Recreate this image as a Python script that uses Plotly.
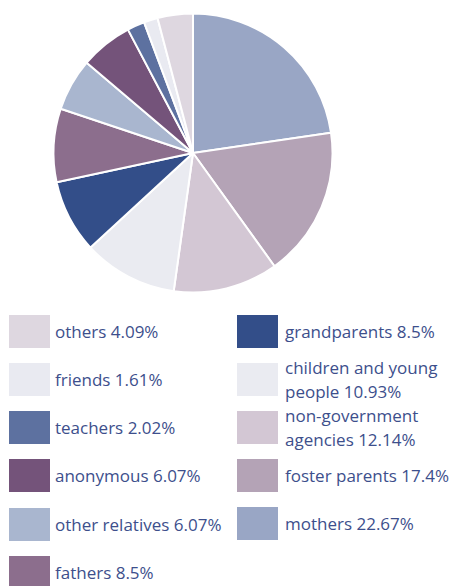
import plotly.graph_objects as go

# Data (clockwise from 12 o'clock)
labels = ["mothers", "foster parents", "non-government agencies", "children and young people",
          "grandparents", "fathers", "other relatives", "anonymous", "teachers", "friends", "others"]
values = [22.67, 17.4, 12.14, 10.93, 8.5, 8.5, 6.07, 6.07, 2.02, 1.61, 4.09]
colors = ["#99A6C5", "#B4A3B6", "#D3C7D4", "#EAEBF1", "#334E89", "#8C6E8D",
          "#A9B6CF", "#74537A", "#5D71A0", "#E9EAF1", "#DED7E0"]

# Legend text (as shown; lines split where the reference wraps)
legend_text = {
    "others": ["others 4.09%"],
    "friends": ["friends 1.61%"],
    "teachers": ["teachers 2.02%"],
    "anonymous": ["anonymous 6.07%"],
    "other relatives": ["other relatives 6.07%"],
    "fathers": ["fathers 8.5%"],
    "grandparents": ["grandparents 8.5%"],
    "children and young people": ["children and young", "people 10.93%"],
    "non-government agencies": ["non-government", "agencies 12.14%"],
    "foster parents": ["foster parents 17.4%"],
    "mothers": ["mothers 22.67%"],
}
left_col = ["others", "friends", "teachers", "anonymous", "other relatives", "fathers"]
right_col = ["grandparents", "children and young people", "non-government agencies",
             "foster parents", "mothers"]

W, H = 452, 586
TEXT = "#3D4F8C"
LINE_GAP = 24

fig = go.Figure(go.Pie(
    labels=labels, values=values, sort=False, direction="clockwise", rotation=0,
    marker=dict(colors=colors, line=dict(color="white", width=2)),
    textinfo="none", hoverinfo="label+percent", showlegend=False,
    domain=dict(x=[53.5 / W, 332.5 / W], y=[1 - 292.5 / H, 1 - 13.5 / H]),
))

color_of = dict(zip(labels, colors))
shapes, annotations = [], []

def add_col(items, x0, tx, tops):
    for name, top in zip(items, tops):
        shapes.append(dict(type="rect", xref="paper", yref="paper",
                           x0=x0 / W, x1=(x0 + 41) / W,
                           y0=1 - (top + 33) / H, y1=1 - top / H,
                           fillcolor=color_of[name], line=dict(width=0)))
        lines = legend_text[name]
        cy = top + 16.5
        n = len(lines)
        for i, line in enumerate(lines):
            y = cy + (i - (n - 1) / 2) * LINE_GAP
            annotations.append(dict(xref="paper", yref="paper", x=tx / W, y=1 - y / H,
                                    xanchor="left", yanchor="middle", showarrow=False,
                                    text=line, align="left",
                                    font=dict(family="Open Sans", size=17, color=TEXT)))

add_col(left_col, 9, 53, [315, 363, 411, 459, 508, 556])
add_col(right_col, 237, 283, [315, 363, 411, 459, 507])

fig.update_layout(width=W, height=H, margin=dict(l=0, r=0, t=0, b=0),
                  paper_bgcolor="white", plot_bgcolor="white",
                  shapes=shapes, annotations=annotations)
fig.write_html("out.html")
